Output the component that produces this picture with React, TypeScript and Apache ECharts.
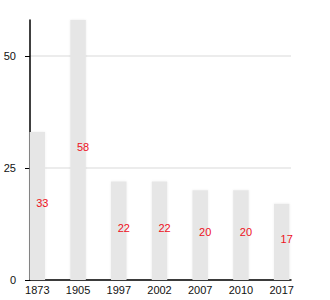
import React, { useEffect, useRef } from "react";
import * as echarts from "echarts";

const categories = ["1873", "1905", "1997", "2002", "2007", "2010", "2017"];
const values = [33, 58, 22, 22, 20, 20, 17];
const yTicks = [0, 25, 50];

export default function App() {
  const ref = useRef<HTMLDivElement>(null);
  useEffect(() => {
    if (!ref.current) return;
    const chart = echarts.init(ref.current, undefined, { renderer: "svg" });
    const font = "Liberation Sans, Arial, sans-serif";
    chart.setOption({
      animation: false,
      grid: [
        { left: 30, right: 39, top: 20, bottom: 20 },
        { left: 17, right: 28, top: 20, bottom: 20 },
      ],
      xAxis: [
        {
          type: "value",
          gridIndex: 0,
          min: 0,
          max: 1,
          axisLine: { show: true, lineStyle: { color: "#000", width: 1.5 } },
          axisTick: { show: false },
          axisLabel: { show: false },
          splitLine: { show: false },
        },
        {
          type: "category",
          gridIndex: 1,
          data: categories,
          axisLine: { show: false },
          axisTick: { show: false },
          axisLabel: { color: "#111", fontSize: 11, fontFamily: font, margin: 4 },
        },
      ],
      yAxis: [
        {
          type: "value",
          gridIndex: 0,
          min: 0,
          max: 58,
          interval: 25,
          axisLine: { show: true, lineStyle: { color: "#000", width: 1.5 } },
          axisTick: { show: true, length: 5, lineStyle: { color: "#000" }, customValues: yTicks },
          axisLabel: {
            color: "#111",
            fontSize: 11,
            fontFamily: font,
            margin: 14,
            customValues: yTicks,
            formatter: (v: number) => (yTicks.includes(v) ? String(v) : ""),
          },
          splitLine: {
            show: true,
            lineStyle: { color: "#e6e6e6", width: 1.5 },
          },
        },
        {
          type: "value",
          gridIndex: 1,
          min: 0,
          max: 58,
          show: false,
          splitLine: { show: false },
        },
      ],
      series: [
        {
          type: "bar",
          xAxisIndex: 1,
          yAxisIndex: 1,
          data: values,
          barWidth: 15.5,
          itemStyle: {
            color: "#e6e6e6",
            shadowBlur: 2,
            shadowColor: "rgba(0,0,0,0.08)",
          },
          label: {
            show: true,
            position: "inside",
            offset: [5, -3],
            color: "#ee1122",
            fontSize: 11,
            fontFamily: font,
          },
        },
      ],
    });
    return () => chart.dispose();
  }, []);
  return <div ref={ref} style={{ width: 330, height: 300, position: "absolute", left: 0, top: 0 }} />;
}
